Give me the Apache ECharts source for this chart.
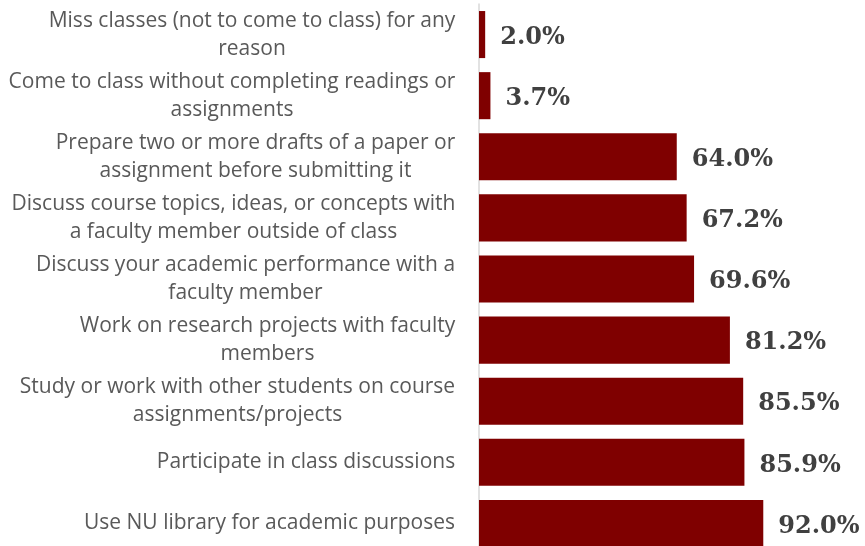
<!DOCTYPE html>
<html lang="en">
<head>
    <meta charset="UTF-8">
    <title>Student engagement</title>
    <style>
        html, body { margin: 0; padding: 0; background: #fff; overflow: hidden; }
        /* the last bar runs a little past the bottom of the picture */
        #chart { width: 865px; height: 556px; }
    </style>
</head>
<body>
<div id="chart"></div>
<script src="https://cdn.jsdelivr.net/npm/echarts@6/dist/echarts.min.js"></script>
<script>
    // categories, top to bottom
    var activities = [
        'Miss classes (not to come to class) for any\nreason',
        'Come to class without completing readings or\nassignments',
        'Prepare two or more drafts of a paper or\nassignment before submitting it',
        'Discuss course topics, ideas, or concepts with\na faculty member outside of class',
        'Discuss your academic performance with a\nfaculty member',
        'Work on research projects with faculty\nmembers',
        'Study or work with other students on course\nassignments/projects',
        'Participate in class discussions',
        'Use NU library for academic purposes'
    ];
    // percent of students
    var percents = [2.0, 3.7, 64.0, 67.2, 69.6, 81.2, 85.5, 85.9, 92.0];

    var labelFont = '21px "Open Sans"';

    // each label block is right aligned, its lines centred inside it
    var ctx = document.createElement('canvas').getContext('2d');
    ctx.font = labelFont;
    var rich = {};
    activities.forEach(function (name, i) {
        var w = 0;
        name.split('\n').forEach(function (line) {
            w = Math.max(w, ctx.measureText(line).width);
        });
        rich['c' + i] = {
            width: Math.ceil(w) + 1,
            align: 'center',
            color: '#595959',
            fontFamily: 'Open Sans',
            fontSize: 21,
            lineHeight: 28
        };
    });

    var myChart = echarts.init(document.getElementById('chart'));
    var option = {
        animation: false,
        grid: {
            left: 479,
            right: 77,
            top: 4,
            bottom: 2,
            containLabel: false
        },
        xAxis: {
            type: 'value',
            min: 0,
            max: 100,
            show: false
        },
        yAxis: {
            type: 'category',
            inverse: true,
            data: activities,
            axisLine: { show: true, lineStyle: { color: '#d9d9d9', width: 1.5 } },
            axisTick: { show: false },
            axisLabel: {
                margin: 23,
                align: 'right',
                formatter: function (value, idx) {
                    return value.split('\n').map(function (line) {
                        return '{c' + idx + '|' + line + '}';
                    }).join('\n');
                },
                rich: rich
            }
        },
        series: [{
            type: 'bar',
            data: percents,
            barCategoryGap: '23%',
            itemStyle: { color: '#7f0000' },
            label: {
                show: true,
                position: 'right',
                distance: 15,
                offset: [0, 3],
                color: '#404040',
                fontFamily: 'DejaVu Serif',
                fontWeight: 'bold',
                fontSize: 24,
                formatter: function (p) { return p.value.toFixed(1) + '%'; }
            }
        }]
    };
    myChart.setOption(option);
</script>
</body>
</html>
